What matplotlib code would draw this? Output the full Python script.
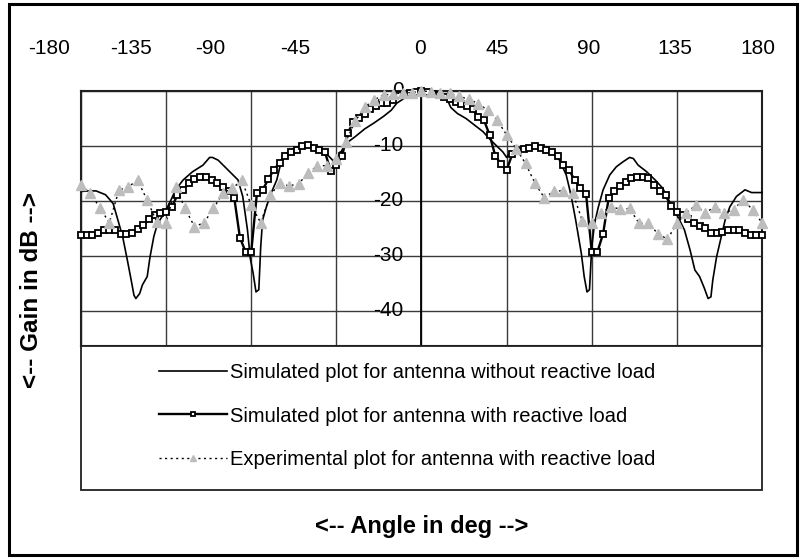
import matplotlib.pyplot as plt
from matplotlib.patches import Rectangle

plt.rcParams['font.family'] = ['Liberation Sans', 'DejaVu Sans']
plt.rcParams['axes.unicode_minus'] = False

# simulated, antenna without reactive load (plain line)
ang_noload = [-180, -176, -172, -167, -163, -160.5, -158, -155.5, -153.5, -152, -151, -149,
              -147.5, -145, -143.5, -141.5, -139.5, -136, -132.5, -130, -126, -121, -115.5,
              -112, -110.5, -107.5, -104, -100.5, -97, -94.5, -92, -90.5, -89, -87.5, -86,
              -85, -84, -82, -79.5, -76.5, -74, -70.5, -67, -62.5, -59, -55.5, -52, -49.5,
              -47, -45.5, -43, -40.5, -38.5, -35, -30, -25, -20, -16, -13, -9, -4.5, 0,
              7.5, 13.5, 15.5, 19, 23.5, 28, 32.5, 36.5, 40, 43, 45, 46, 48, 51.5, 55, 59,
              62.5, 66, 69.5, 73, 76.5, 79, 81.5, 84.5, 86, 87.5, 88.8, 90, 91.5, 93.5, 96,
              99.5, 103, 106.5, 110, 112, 114.5, 119, 123.5, 127.5, 132, 135.5, 139, 142,
              144.5, 147, 149.5, 151.5, 153, 154, 156, 158.5, 160.5, 163, 166.5, 171, 174.5,
              180]
gain_noload = [-18.3, -18.2, -18.2, -18.9, -20.5, -23.5, -26.5, -30.8, -34.4, -37.2, -37.8, -36.9,
               -35.3, -33.8, -30.2, -26.5, -24.1, -22.3, -19.9, -18.0, -16.2, -14.7, -13.5,
               -12.1, -12.1, -12.6, -13.8, -15.0, -16.2, -19.2, -25.3, -30.5, -33.2, -36.6, -36.2,
               -28.4, -23.5, -21.1, -18.6, -16.2, -12.6, -11.1, -10.4, -10.0, -9.8, -10.1, -10.7, -11.7,
               -12.6, -12.8, -11.4, -9.8, -9.2, -8.3, -6.9, -5.8, -4.6, -3.5, -2.2, -1.3, -0.7, -0.2,
               -0.7, -1.5, -3.0, -4.1, -5.0, -6.2, -7.4, -8.9, -10.1, -11.1, -12.1, -11.6, -11.5, -11.1, -10.4, -10.1,
               -10.1, -10.6, -11.3, -12.6, -15.3, -18.9, -23.5, -29.6, -33.8, -36.6, -36.2, -28.4, -24.1, -21.1, -18.0,
               -15.3, -13.8, -12.9, -12.1, -12.3, -13.5, -14.7, -16.2, -17.7, -20.8, -22.9, -25.3, -29.0,
               -32.6, -33.8, -35.9, -37.8, -37.5, -34.4, -30.2, -26.5, -23.5, -21.1, -19.2, -18.0, -18.5,
               -18.5]

# simulated, antenna with reactive load (squares, every 3 deg)
ang_load = list(range(-180, 181, 3))
gain_load = [-26.3, -26.3, -26.3, -25.9, -25.3, -25.3, -25.3, -26.0, -26.0, -25.9,
             -25.1, -24.4, -23.4, -22.6, -22.2, -22.0, -21.2, -18.9, -18.0, -16.8,
             -16.1, -15.7, -15.7, -16.2, -16.8, -17.4, -18.3, -19.4, -26.7, -29.3,
             -29.3, -18.6, -18.0, -16.1, -14.3, -13.1, -11.8, -11.2, -10.7, -10.1,
             -9.9, -10.3, -10.7, -11.2, -14.5, -13.5, -11.8, -7.7, -5.6, -5.0,
             -4.1, -3.2, -2.7, -2.2, -2.1, -1.6, -0.7, -0.7, -0.4, -0.1,
             0.0,
             -0.2, -0.5, -0.8, -1.1, -1.5, -2.0, -2.4, -2.8, -3.3, -4.7,
             -5.3, -8.0, -11.8, -13.3, -14.4, -11.5, -11.0, -10.6, -10.3, -10.0,
             -10.3, -10.7, -11.2, -11.9, -13.5, -14.4, -16.2, -17.7, -18.8, -29.3,
             -29.3, -26.0, -19.4, -18.3, -17.3, -16.5, -15.9, -15.7, -15.6, -15.9,
             -17.1, -18.3, -19.0, -21.0, -22.0, -22.5, -23.3, -24.0, -24.6, -25.0,
             -25.9, -25.9, -25.6, -25.3, -25.3, -25.3, -25.9, -26.2, -26.2, -26.2]

# experimental, antenna with reactive load (triangles, every 5 deg)
ang_exp = list(range(-180, 181, 5))
gain_exp = [-17.2, -18.6, -21.3, -24.0, -18.1, -17.4, -16.3, -19.9, -23.8, -24.1,
            -17.4, -21.4, -24.7, -24.0, -21.4, -18.6, -17.7, -16.3, -20.8, -24.0,
            -19.0, -16.8, -17.3, -16.9, -15.0, -13.6, -13.6, -12.3, -9.2, -5.5,
            -2.9, -1.6, -0.7, -0.6, -0.3, -0.3,
            0.0,
            -0.1, -0.4, -0.4, -1.0, -1.5, -2.3, -3.5, -5.3, -8.0, -10.5,
            -13.2, -16.8, -19.5, -18.2, -18.2, -18.6, -23.6, -24.1, -22.2, -21.1,
            -21.5, -21.4, -24.1, -24.1, -26.0, -27.0, -24.1, -22.2, -20.8, -22.2,
            -21.1, -22.2, -21.6, -19.8, -21.6, -24.0]

xticks = [-180, -135, -90, -45, 0, 45, 90, 135, 180]
yticks = [0, -10, -20, -30, -40]
labels = ['Simulated plot for antenna without reactive load',
          'Simulated plot for antenna with reactive load',
          'Experimental plot for antenna with reactive load']

W, H = 803, 559
# the angle labels along the top do not sit exactly over the grid lines
xlabel_px = [49, 131, 210, 295, 420, 497, 589, 675, 758]

fig = plt.figure(figsize=(W / 100, H / 100), dpi=100)

# outer frame of the picture
fig.patches.append(Rectangle((9 / W, 4 / H), 788 / W, 551 / H, transform=fig.transFigure,
                             fill=False, ec='black', lw=2.2))

ax = fig.add_axes([81 / W, 1 - 346 / H, 681 / W, 255 / H])
ax.set_xlim(-180, 180)
ax.set_ylim(-255 / 5.49, 0)

ax.set_xticks(xticks)
ax.set_yticks(yticks)
ax.grid(True, color='#3a3a3a', lw=1.0)
ax.set_axisbelow(True)
ax.tick_params(length=0, labelbottom=False, labelleft=False)
for s in ax.spines.values():
    s.set_color('#202020')
    s.set_linewidth(1.5)
ax.axvline(0, color='black', lw=1.3, zorder=1)

for v, px in zip(xticks, xlabel_px):
    fig.text(px / W, 1 - 49 / H, str(v), ha='center', va='center', fontsize=15)

for v in yticks:
    ax.annotate(str(v), (0, v), xytext=(-13, 0), textcoords='offset points',
                ha='right', va='center', fontsize=15, annotation_clip=False)

l1, = ax.plot(ang_noload, gain_noload, color='black', lw=1.2, clip_on=False, zorder=3)
l2, = ax.plot(ang_load, gain_load, color='black', lw=1.7, marker='s', ms=5,
              mfc='white', mec='black', mew=1.3, clip_on=False, zorder=4)
l3, = ax.plot(ang_exp, gain_exp, color='black', lw=1.0, ls=(0, (1.5, 2.5)),
              marker='^', ms=7, mfc='#bdbdbd', mec='#bdbdbd', clip_on=False, zorder=5)

# legend box under the plot
fig.patches.append(Rectangle((81 / W, 69 / H), 681 / W, 144 / H, transform=fig.transFigure,
                             fc='white', ec='#202020', lw=1.3))
fig.legend([l1, l2, l3], labels, loc='center', bbox_to_anchor=(407 / W, 1 - 416 / H),
           frameon=False, fontsize=14.5, handlelength=3.4, handletextpad=0.15,
           labelspacing=1.2, borderpad=0, markerscale=0.7)

fig.text(421.5 / W, 1 - 526 / H, '<-- Angle in deg -->', ha='center', va='center',
         fontsize=17, fontweight='bold')
fig.text(32 / W, 1 - 290 / H, '<-- Gain in dB -->', ha='center', va='center',
         rotation=90, fontsize=17.5, fontweight='bold')

fig.savefig('out.png', dpi=100)
